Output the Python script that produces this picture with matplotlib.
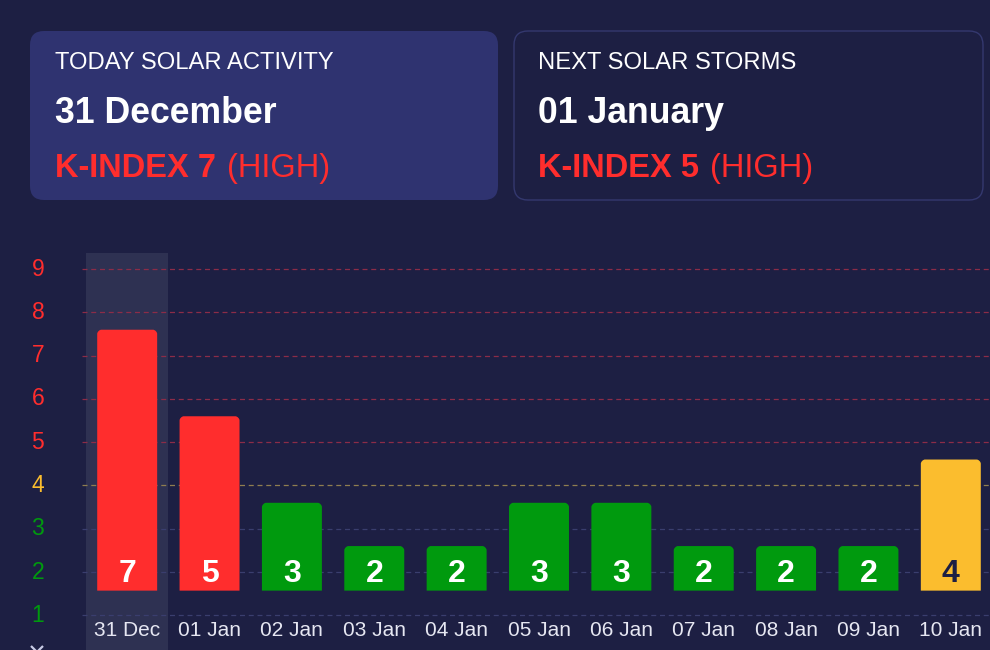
import matplotlib
matplotlib.use("Agg")
import matplotlib.pyplot as plt
from matplotlib.patches import FancyBboxPatch, PathPatch
from matplotlib.path import Path

plt.rcParams['font.family'] = ['Liberation Sans', 'DejaVu Sans']

# ---------------- data ----------------
dates = ["31 Dec", "01 Jan", "02 Jan", "03 Jan", "04 Jan", "05 Jan",
         "06 Jan", "07 Jan", "08 Jan", "09 Jan", "10 Jan"]
k_index = [7, 5, 3, 2, 2, 3, 3, 2, 2, 2, 4]
y_ticks = [1, 2, 3, 4, 5, 6, 7, 8, 9]

today_title = "TODAY SOLAR ACTIVITY"
today_date = "31 December"
today_k = "K-INDEX 7"
today_level = "(HIGH)"
next_title = "NEXT SOLAR STORMS"
next_date = "01 January"
next_k = "K-INDEX 5"
next_level = "(HIGH)"

# ---------------- style ----------------
BG = "#1d1f43"
CARD = "#2f3370"
CARD_EDGE = "#34386f"
BAND = "#2e3152"
RED = "#ff2d2d"
YELLOW = "#fbbd2e"
GREEN = "#009a0e"
DARK = "#1d1f43"


def level_color(v):
    if v >= 5:
        return RED
    if v == 4:
        return YELLOW
    return GREEN


def grid_color(v):
    if v >= 5:
        return "#8c2c48"
    if v == 4:
        return "#8f7e50"
    return "#3a3e6e"


fig = plt.figure(figsize=(9.9, 6.5), dpi=100, facecolor=BG)

# ---------------- cards (pixel coordinate overlay) ----------------
ov = fig.add_axes([0, 0, 1, 1], zorder=5)
ov.set_xlim(0, 990)
ov.set_ylim(650, 0)
ov.axis("off")
ov.patch.set_alpha(0)

ov.add_patch(FancyBboxPatch((30, 31), 468, 169,
                            boxstyle="round,pad=0,rounding_size=14",
                            facecolor=CARD, edgecolor="none"))
ov.add_patch(FancyBboxPatch((514, 31), 469, 169,
                            boxstyle="round,pad=0,rounding_size=14",
                            facecolor="none", edgecolor=CARD_EDGE, lw=1))

renderer = fig.canvas.get_renderer()


def card_text(x0, title, date, ktxt, level):
    ov.text(x0, 69, title, color="white", fontsize=17.1, va="baseline", ha="left")
    ov.text(x0, 123, date, color="white", fontsize=25.7, fontweight="bold",
            va="baseline", ha="left")
    t = ov.text(x0, 177, ktxt, color=RED, fontsize=23.5, fontweight="bold",
                va="baseline", ha="left")
    bb = t.get_window_extent(renderer=renderer)
    x_end = bb.x1 * 990 / fig.bbox.width
    ov.text(x_end + 11, 177, level, color=RED, fontsize=23.5,
            va="baseline", ha="left")


card_text(55, today_title, today_date, today_k, today_level)
card_text(538, next_title, next_date, next_k, next_level)

# little chevron at bottom-left
ov.plot([31, 37, 43], [646, 652, 646], color="#c8cbe6", lw=1.6,
        solid_capstyle="butt", clip_on=False)

# ---------------- bar chart ----------------
ax = fig.add_axes([86 / 990, 0, 906 / 990, 397.3 / 650], zorder=1)
ax.set_facecolor("none")
ax.set_xlim(-0.5, len(dates) - 0.5)
ax.set_ylim(0.198, 9.38)
for s in ax.spines.values():
    s.set_visible(False)

# highlighted current-day column
ax.axvspan(-0.5, 0.5, color=BAND, zorder=0, lw=0)

for k in y_ticks:
    ax.axhline(k, xmin=-0.004, xmax=1.0, color=grid_color(k), lw=0.9,
               ls=(0, (4, 3)), zorder=1, clip_on=False)

base = 1.57
top_pad = 0.6
xs = list(range(len(dates)))
heights = [v + top_pad - base for v in k_index]
bars = ax.bar(xs, heights, bottom=base, width=0.728,
              color=[level_color(v) for v in k_index], zorder=2)

# replace rectangles with top-rounded versions
rx, ry = 0.05, 0.095
for b in bars:
    x0, y0 = b.get_x(), b.get_y()
    w, h = b.get_width(), b.get_height()
    x1, y1 = x0 + w, y0 + h
    c = 0.55
    verts = [(x0, y0), (x1, y0), (x1, y1 - ry),
             (x1, y1 - ry * c), (x1 - rx * c, y1), (x1 - rx, y1),
             (x0 + rx, y1),
             (x0 + rx * c, y1), (x0, y1 - ry * c), (x0, y1 - ry),
             (x0, y0)]
    codes = [Path.MOVETO, Path.LINETO, Path.LINETO,
             Path.CURVE4, Path.CURVE4, Path.CURVE4,
             Path.LINETO,
             Path.CURVE4, Path.CURVE4, Path.CURVE4,
             Path.CLOSEPOLY]
    ax.add_patch(PathPatch(Path(verts, codes), facecolor=b.get_facecolor(),
                           edgecolor="none", zorder=2))
    b.set_visible(False)

for x, v in zip(xs, k_index):
    ax.text(x, base + 0.2, str(v), ha="center", va="baseline",
            fontsize=23, fontweight="bold",
            color=DARK if v == 4 else "white", zorder=3)

for x, d in zip(xs, dates):
    ax.text(x, 0.66, d, ha="center", va="center", fontsize=15,
            color="#e6e7f2", zorder=3)

ax.set_xticks([])
ax.set_yticks(y_ticks)
ax.set_yticklabels([str(k) for k in y_ticks], fontsize=16.5)
ax.tick_params(axis="y", length=0, pad=30)
for lbl, k in zip(ax.get_yticklabels(), y_ticks):
    lbl.set_color(level_color(k))
    lbl.set_verticalalignment("center")
    lbl.set_y(lbl.get_position()[1])

fig.savefig("out.png", dpi=100, facecolor=BG)
